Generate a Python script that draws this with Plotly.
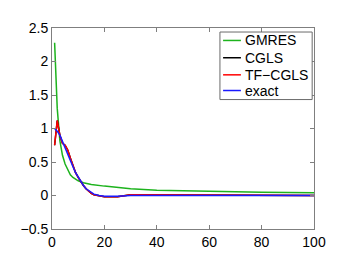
import plotly.graph_objects as go

# iteration index / values
x_gm = [1, 2, 3, 4, 5, 6, 7, 8, 9, 10, 12, 15, 20, 25, 30, 40, 50, 60, 70, 80, 90, 100]
gmres = [2.28, 1.3, 0.82, 0.6, 0.47, 0.38, 0.31, 0.27, 0.24, 0.22, 0.19, 0.165, 0.14, 0.12, 0.10, 0.08, 0.07, 0.06, 0.055, 0.05, 0.045, 0.04]

x_ex = [1, 2, 3, 4, 5, 6, 7, 8, 9, 10, 11, 12, 13, 14, 15, 16, 18, 20, 25, 30, 40, 60, 80, 100]
exact = [1.0, 0.96, 0.9, 0.8, 0.72, 0.63, 0.53, 0.43, 0.34, 0.27, 0.21, 0.15, 0.1, 0.07, 0.04, 0.02, 0.0, -0.01, -0.01, 0.0, 0.0, 0.0, 0.0, 0.0]

x_tf = [1, 2, 3, 4, 5, 6, 7, 8, 9, 10, 11, 12, 13, 14, 15, 16, 18, 20, 22, 25, 30, 35, 40, 45, 50, 60, 80, 100]
tfcgls = [0.75, 1.12, 0.9, 0.78, 0.75, 0.68, 0.56, 0.44, 0.34, 0.27, 0.2, 0.15, 0.1, 0.06, 0.03, 0.01, -0.01, -0.02, -0.02, -0.02, 0.01, 0.01, 0.01, 0.0, 0.0, 0.0, 0.0, 0.0]
cgls = [0.75, 1.12, 0.9, 0.78, 0.75, 0.68, 0.56, 0.44, 0.34, 0.27, 0.2, 0.15, 0.1, 0.06, 0.03, 0.01, -0.01, -0.02, -0.02, -0.02, 0.01, 0.01, 0.01, 0.0, 0.0, 0.0, 0.0, 0.0]

names = ["GMRES", "CGLS", "TF\u2212CGLS", "exact"]
colors = ["#1db31d", "#000000", "#ff0000", "#1a1aff"]

x_ticks = [0, 20, 40, 60, 80, 100]
y_ticks = [-0.5, 0, 0.5, 1, 1.5, 2, 2.5]
y_labels = ["\u22120.5", "0", "0.5", "1", "1.5", "2", "2.5"]

FONT = "Liberation Sans, Arial, Helvetica, sans-serif"

fig = go.Figure()
series = [(x_gm, gmres), (x_tf, cgls), (x_tf, tfcgls), (x_ex, exact)]
for (xs, ys), nm, c in zip(series, names, colors):
    fig.add_trace(go.Scatter(x=xs, y=ys, mode="lines", name=nm,
                             line=dict(color=c, width=1.5), showlegend=False))

axis_common = dict(showgrid=False, zeroline=False, showline=True, linecolor="#7f7f7f", linewidth=1,
                   mirror="ticks", ticks="inside", ticklen=4, tickcolor="#7f7f7f",
                   tickfont=dict(family=FONT, size=14, color="black"))
fig.update_xaxes(range=[0, 100], tickvals=x_ticks, **axis_common)
fig.update_yaxes(range=[-0.5, 2.5], tickvals=y_ticks, ticktext=y_labels, **axis_common)

# manual MATLAB-style legend
shapes = [dict(type="rect", xref="paper", yref="paper", x0=0.641, x1=0.993, y0=0.644, y1=0.980,
               line=dict(color="#6a6a6a", width=1), fillcolor="white", layer="above")]
annotations = []
item_y = [0.938, 0.852, 0.767, 0.689]
for nm, c, yy in zip(names, colors, item_y):
    shapes.append(dict(type="line", xref="paper", yref="paper", x0=0.653, x1=0.721, y0=yy, y1=yy,
                       line=dict(color=c, width=1.5), layer="above"))
    annotations.append(dict(xref="paper", yref="paper", x=0.73, y=yy, xanchor="left", yanchor="middle",
                            text=nm, showarrow=False, font=dict(family=FONT, size=14, color="black")))

fig.update_layout(
    width=338, height=254,
    margin=dict(l=44, r=32, t=19, b=30),
    plot_bgcolor="white", paper_bgcolor="white",
    shapes=shapes, annotations=annotations,
    showlegend=False,
)
fig.write_html("out.html")
